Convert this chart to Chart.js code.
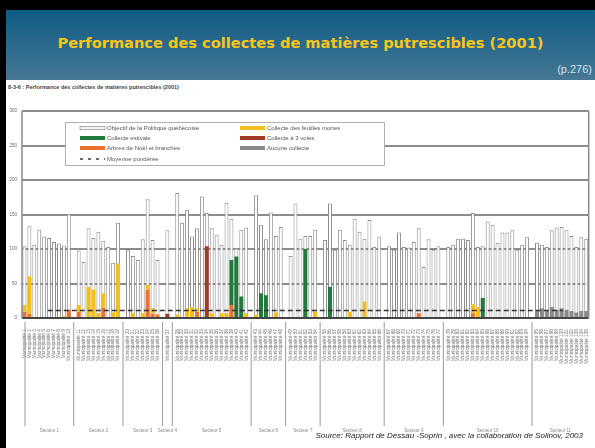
<!DOCTYPE html>
<html lang="fr">
<head>
<meta charset="utf-8">
<script src="https://cdn.jsdelivr.net/npm/chart.js@4.4.1/dist/chart.umd.min.js"></script>
<style>
  html, body { margin: 0; padding: 0; background: #000; }
  #slide { position: relative; width: 595px; height: 448px; background: #000; overflow: hidden; }
  #header { position: absolute; left: 6px; top: 10px; right: 0; height: 70px;
            background: linear-gradient(#0f5c85, #477794); }
  #title { position: absolute; left: 0; right: 0; top: 24px; text-align: center;
           color: #f7c51a; font: bold 14.6px "DejaVu Sans", sans-serif; }
  #page { position: absolute; right: 3px; top: 53px; color: #d8e0e6;
          font: 11px "Liberation Sans", Arial, sans-serif; }
  #sheet { position: absolute; left: 6px; top: 80px; right: 0; bottom: 0; background: #fff; }
  #chartTitle { position: absolute; left: 8px; top: 84px; color: #444;
                font: bold 5.5px "Liberation Sans", Arial, sans-serif; }
  #wrap { position: absolute; left: 0; top: 80px; width: 595px; height: 368px; }
  #source { position: absolute; right: 12px; top: 431px; color: #222;
            font: italic 8px "Liberation Sans", Arial, sans-serif; }
</style>
</head>
<body>
<div id="slide">
  <div id="header">
    <div id="title">Performance des collectes de matières putrescibles (2001)</div>
    <div id="page">(p.276)</div>
  </div>
  <div id="sheet"></div>
  <div id="chartTitle">8-3-6 : Performance des collectes de matières putrescibles (2001)</div>
  <div id="wrap"><canvas id="perfChart" width="595" height="368"></canvas></div>
  <div id="source">Source: Rapport de Dessau -Soprin , avec la collaboration de Solinov, 2003</div>
</div>

<script>
// regions (bottom labels) and how many municipalities each one holds
const regions = ['Secteur 1', 'Secteur 2', 'Secteur 3', 'Secteur 4', 'Secteur 5', 'Secteur 6',
                 'Secteur 7', 'Secteur 8', 'Secteur 9', 'Secteur 10', 'Secteur 11'];
const regionSizes = [10, 9, 7, 1, 15, 6, 6, 12, 11, 17, 11];

// kg/pers./an, one value per column, null = empty column between regions
const objectif = [
  104, 133, 106, 128, 118, 116, 110, 108, 105, 151, null,
  98, 81, 130, 116, 125, 112, 103, 80, 138, null,
  99, 90, 84, 114, 172, 113, 84, null,
  127, null,
  181, 138, 157, 118, 130, 176, 152, 130, 120, 106, 167, 144, 101, 128, 131, null,
  178, 135, 114, 153, 119, 132, null,
  90, 166, 115, 119, 119, 128, null,
  113, 166, 99, 128, 113, 106, 144, 125, 115, 142, 103, 118, null,
  104, 99, 124, 103, 102, 110, 130, 74, 114, 99, 104, null,
  103, 106, 115, 115, 113, 152, 103, 104, 140, 135, 109, 124, 124, 127, 99, 106, 117, null,
  109, 106, 103, 127, 131, 132, 127, 119, 103, 117, 115
];
const arbresNoel = [
  9, 6, 0, 0, 0, 0, 0, 0, 0, 12, null,
  9, 0, 0, 0, 0, 15, 0, 0, 0, null,
  0, 0, 0, 0, 41, 6, 5, null,
  0, null,
  0, 0, 0, 0, 9, 0, 0, 0, 0, 0, 0, 19, 0, 0, 0, null,
  0, 0, 0, 0, 0, 0, null,
  0, 0, 0, 0, 0, 0, null,
  0, 0, 0, 0, 0, 0, 0, 0, 0, 0, 0, 0, null,
  0, 0, 0, 0, 0, 0, 7, 0, 0, 0, 0, null,
  0, 0, 0, 0, 0, 7, 0, 0, 0, 0, 0, 0, 0, 0, 0, 0, 0, null,
  0, 0, 0, 0, 0, 0, 0, 0, 0, 0, 0
];
const feuillesMortes = [
  10, 54, 0, 0, 0, 0, 0, 0, 3, 0, null,
  10, 0, 45, 41, 7, 21, 0, 8, 79, null,
  0, 7, 0, 7, 7, 8, 0, null,
  0, null,
  5, 0, 14, 16, 5, 0, 0, 7, 0, 7, 7, 0, 0, 0, 7, null,
  5, 0, 0, 0, 8, 0, null,
  0, 0, 0, 0, 0, 9, null,
  0, 0, 0, 0, 0, 9, 0, 0, 24, 0, 0, 0, null,
  0, 0, 0, 0, 0, 0, 0, 0, 0, 0, 0, null,
  0, 0, 0, 0, 0, 13, 16, 0, 0, 0, 0, 0, 0, 0, 0, 0, 0, null,
  0, 0, 0, 0, 0, 0, 0, 0, 0, 0, 0
];
const estivale = [
  0, 0, 0, 0, 0, 0, 0, 0, 0, 0, null,
  0, 0, 0, 0, 0, 0, 0, 0, 0, null,
  0, 0, 0, 0, 0, 0, 0, null,
  0, null,
  0, 0, 0, 0, 0, 0, 0, 0, 0, 0, 0, 65, 89, 31, 0, null,
  0, 36, 33, 0, 0, 0, null,
  0, 0, 0, 100, 0, 0, null,
  0, 45, 0, 0, 0, 0, 0, 0, 0, 0, 0, 0, null,
  0, 0, 0, 0, 0, 0, 0, 0, 0, 0, 0, null,
  0, 0, 0, 0, 0, 0, 0, 29, 0, 0, 0, 0, 0, 0, 0, 0, 0, null,
  0, 0, 0, 0, 0, 0, 0, 0, 0, 0, 0
];
const troisVoies = [
  0, 0, 0, 0, 0, 0, 0, 0, 0, 0, null,
  0, 0, 0, 0, 0, 0, 0, 0, 0, null,
  0, 0, 0, 0, 0, 0, 0, null,
  6, null,
  0, 0, 0, 0, 0, 0, 104, 0, 0, 0, 0, 0, 0, 0, 0, null,
  0, 0, 0, 0, 0, 0, null,
  0, 0, 0, 0, 0, 0, null,
  0, 0, 0, 0, 0, 0, 0, 0, 0, 0, 0, 0, null,
  0, 0, 0, 0, 0, 0, 0, 0, 0, 0, 0, null,
  0, 0, 0, 0, 0, 0, 0, 0, 0, 0, 0, 0, 0, 0, 0, 0, 0, null,
  0, 0, 0, 0, 0, 0, 0, 0, 0, 0, 0
];
const aucuneCollecte = [
  0, 0, 0, 0, 0, 0, 0, 0, 0, 0, null,
  0, 0, 0, 0, 0, 0, 0, 0, 0, null,
  0, 0, 0, 0, 0, 0, 0, null,
  0, null,
  0, 0, 0, 0, 0, 0, 0, 0, 0, 0, 0, 0, 0, 0, 0, null,
  0, 0, 0, 0, 0, 0, null,
  0, 0, 0, 0, 0, 0, null,
  0, 0, 0, 0, 0, 0, 0, 0, 0, 0, 0, 0, null,
  0, 0, 0, 0, 0, 0, 0, 0, 0, 0, 0, null,
  0, 0, 0, 0, 0, 0, 0, 0, 0, 0, 0, 0, 0, 0, 0, 0, 0, null,
  10, 14, 10, 16, 12, 14, 12, 10, 8, 10, 10
];
const moyennePonderee = 11;
const yTicks = [0, 50, 100, 150, 200, 250, 300];

// column labels: one per municipality, blank for the spacer columns
const labels = [];
let n = 1;
regionSizes.forEach((size, r) => {
  for (let i = 0; i < size; i++) labels.push('Municipalité ' + n++);
  if (r < regionSizes.length - 1) labels.push('');
});

// segments sit on top of the orange one
function segment(values, base) {
  return values.map((v, i) => v ? [base ? (base[i] || 0) : 0, (base ? (base[i] || 0) : 0) + v] : null);
}

const decor = {
  id: 'decor',
  afterDatasetsDraw(chart) {
    const { ctx, chartArea: a, scales: { x } } = chart;
    ctx.save();

    // plot frame sides
    ctx.strokeStyle = '#8a8a8a';
    ctx.lineWidth = 1.5;
    ctx.beginPath();
    ctx.moveTo(a.left, a.top); ctx.lineTo(a.left, a.bottom);
    ctx.moveTo(a.right, a.top); ctx.lineTo(a.right, a.bottom);
    ctx.stroke();

    // region separators and names under the municipality labels
    const bottom = chart.height - 22;
    const cuts = [a.left + 3];
    let idx = 0;
    regionSizes.forEach((size, r) => {
      idx += size;
      if (r < regionSizes.length - 1) { cuts.push(x.getPixelForValue(idx)); idx++; }
    });
    cuts.push(a.right);
    ctx.strokeStyle = '#9a9a9a';
    ctx.lineWidth = 1;
    ctx.beginPath();
    cuts.slice(0, -1).forEach(c => { ctx.moveTo(c, a.bottom + 4); ctx.lineTo(c, bottom); });
    ctx.stroke();
    ctx.fillStyle = '#888';
    ctx.font = '4.5px "Liberation Sans", Arial';
    ctx.textAlign = 'center';
    regions.forEach((name, r) => ctx.fillText(name, (cuts[r] + cuts[r + 1]) / 2, bottom + 6));

    // legend box
    const bx = a.left + 43, by = a.top + 11, bw = 319, bh = 43;
    ctx.fillStyle = '#fff';
    ctx.fillRect(bx, by, bw, bh);
    ctx.strokeStyle = '#b0b0b0';
    ctx.strokeRect(bx + 0.5, by + 0.5, bw, bh);
    const cols = [[0, 2, 4, 6], [1, 3, 5]];
    const colX = [bx + 15, bx + 175];
    const rowY = [6, 16, 26, 37];
    ctx.font = '6px "Liberation Sans", Arial';
    ctx.textAlign = 'left';
    ctx.textBaseline = 'middle';
    cols.forEach((list, c) => list.forEach((di, r) => {
      const ds = chart.data.datasets[di];
      const sx = colX[c], sy = by + rowY[r];
      if (ds.type === 'line') {
        ctx.strokeStyle = '#333';
        ctx.lineWidth = 1.5;
        ctx.setLineDash([3, 5]);
        ctx.beginPath(); ctx.moveTo(sx, sy); ctx.lineTo(sx + 25, sy); ctx.stroke();
        ctx.setLineDash([]);
      } else if (di === 0) {
        ctx.fillStyle = '#f4f4f4';
        ctx.fillRect(sx, sy - 1.5, 25, 3);
        ctx.strokeStyle = '#999';
        ctx.lineWidth = 0.8;
        ctx.strokeRect(sx, sy - 1.5, 25, 3);
      } else {
        ctx.fillStyle = ds.backgroundColor;
        ctx.fillRect(sx, sy - 2, 25, 4);
      }
      ctx.fillStyle = '#555';
      ctx.fillText(ds.label, sx + 27, sy);
    }));
    ctx.restore();
  }
};

new Chart(document.getElementById('perfChart').getContext('2d'), {
  type: 'bar',
  data: {
    labels: labels,
    datasets: [
      { label: 'Objectif de la Politique québécoise', data: objectif, order: 10,
        backgroundColor: '#ffffff', borderColor: '#8c8c8c', borderWidth: 1 },
      { label: 'Collecte des feuilles mortes', data: segment(feuillesMortes, arbresNoel), order: 1,
        backgroundColor: '#f2bf1d' },
      { label: 'Collecte estivale', data: segment(estivale, arbresNoel), order: 1,
        backgroundColor: '#1f7a3c' },
      { label: 'Collecte à 3 voies', data: segment(troisVoies), order: 1,
        backgroundColor: '#a13a25' },
      { label: 'Arbres de Noël et branches', data: segment(arbresNoel), order: 1,
        backgroundColor: '#ef7130' },
      { label: 'Aucune collecte', data: segment(aucuneCollecte), order: 1,
        backgroundColor: '#8a8a8a' },
      { type: 'line', label: 'Moyenne pondérée', xAxisID: 'xl', order: 0,
        data: [{ x: 0, y: moyennePonderee }, { x: 1, y: moyennePonderee }],
        borderColor: '#333', borderWidth: 1.5, borderDash: [5, 3], pointRadius: 0 }
    ]
  },
  options: {
    responsive: false,
    animation: false,
    devicePixelRatio: 1,
    layout: { padding: { top: 31, right: 2, left: 0, bottom: 0 } },
    datasets: { bar: { grouped: false, categoryPercentage: 1, barPercentage: 0.8 } },
    plugins: { legend: { display: false }, tooltip: { enabled: false } },
    scales: {
      x: {
        grid: { display: false },
        border: { display: false },
        ticks: { autoSkip: false, minRotation: 90, maxRotation: 90, padding: 3,
                 color: '#777', font: { size: 4.8, family: 'Liberation Sans' } },
        afterFit: s => { s.height = 130; }
      },
      xl: { type: 'linear', min: 0, max: 1, display: false },
      y: {
        min: 0, max: 300,
        afterBuildTicks: s => { s.ticks = yTicks.map(v => ({ value: v })); },
        grid: { color: c => c.tick.value === 0 ? '#444' : '#8c8c8c', lineWidth: 2, drawTicks: false },
        border: { display: false },
        ticks: { padding: 5, color: '#666', font: { size: 4.5, family: 'Liberation Sans' } },
        afterFit: s => { s.width = 22; }
      }
    }
  },
  plugins: [decor]
});
</script>
</body>
</html>
